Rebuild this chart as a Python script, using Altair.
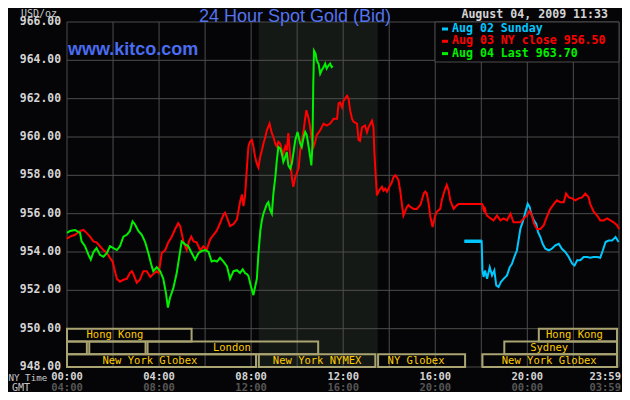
import altair as alt
import pandas as pd

# ---------------------------------------------------------
# DATA (minutes after midnight NY time, USD/oz)
# ---------------------------------------------------------
red_min = [0, 8, 21, 34, 43, 51, 60, 69, 77, 86, 95, 104, 112, 119, 123, 130, 138, 147, 156, 164,
           169, 173, 182, 190, 199, 208, 217, 225, 234, 239, 243, 247, 256, 264, 273, 282, 290, 295,
           304, 312, 317, 324, 330, 338, 347, 356, 364, 373, 382, 390, 399, 408, 412, 417, 425, 434,
           443, 451, 456, 460, 464, 469, 473, 477, 482, 486, 490, 495, 499, 504, 508, 512, 517, 521,
           528, 534, 538, 543, 547, 551, 556, 560, 564, 569, 573, 577, 582, 586, 590, 595, 599, 604,
           608, 612, 617, 621, 624, 630, 634, 638, 643, 647, 651, 660, 669, 677, 686, 695, 704, 708,
           712, 717, 721, 730, 734, 738, 743, 747, 756, 760, 764, 769, 777, 782, 786, 795, 799, 801,
           805, 808, 812, 817, 821, 825, 830, 834, 838, 843, 847, 851, 856, 860, 864, 869, 873, 877,
           882, 886, 890, 895, 904, 912, 921, 925, 930, 934, 938, 943, 947, 953, 960, 964, 973, 977,
           982, 986, 990, 995, 999, 1004, 1008, 1012, 1017, 1021, 1025, 1082, 1086, 1090, 1095, 1104,
           1112, 1121, 1130, 1138, 1147, 1156, 1164, 1173, 1182, 1190, 1199, 1206, 1212, 1217, 1225,
           1234, 1243, 1251, 1260, 1269, 1277, 1286, 1295, 1301, 1308, 1317, 1325, 1334, 1343, 1351,
           1360, 1364, 1373, 1382, 1390, 1399, 1408, 1417, 1425, 1434, 1439]
red_usd = [954.7, 954.8, 954.9, 955.1, 955.15, 955.0, 954.8, 954.55, 954.5, 954.3, 954.1, 953.95,
           953.7, 953.5, 953.15, 952.6, 952.45, 952.55, 952.6, 952.9, 953.0, 952.85, 952.4, 952.55,
           953.0, 953.0, 952.7, 952.85, 953.0, 952.9, 953.4, 953.95, 954.1, 954.5, 954.8, 955.2,
           955.5, 955.35, 954.5, 954.1, 954.5, 954.8, 954.55, 954.5, 954.1, 954.3, 954.1, 954.65,
           954.9, 955.1, 955.5, 955.95, 956.05, 955.8, 955.35, 955.45, 955.7, 956.6, 957.0, 956.4,
           956.9, 958.4, 959.5, 959.75, 959.85, 959.5, 959.0, 958.6, 958.4, 959.0, 959.3, 959.65,
           960.0, 960.35, 960.7, 960.2, 960.0, 959.65, 959.5, 959.75, 959.65, 959.3, 959.1, 959.5,
           959.3, 960.2, 959.0, 957.9, 957.4, 957.9, 958.1, 958.4, 959.3, 959.8, 960.35, 961.0,
           961.4, 960.95, 960.5, 959.9, 959.5, 959.75, 960.1, 960.35, 960.7, 960.6, 960.7, 960.95,
           960.95, 961.75, 961.8, 961.55, 961.9, 962.15, 962.0, 961.4, 960.95, 960.8, 960.7, 959.85,
           959.8, 960.5, 960.6, 960.25, 960.5, 960.85, 960.5, 959.3, 957.9, 956.95, 957.15, 957.3,
           957.4, 957.2, 957.3, 957.15, 957.3, 957.5, 957.65, 957.9, 958.0, 957.9, 957.75, 957.15,
           956.5, 955.9, 956.15, 956.35, 956.45, 956.35, 956.25, 956.25, 956.45, 956.7, 957.05,
           957.15, 957.05, 956.5, 955.85, 955.3, 955.9, 956.1, 956.25, 956.7, 957.05, 957.3, 957.5,
           957.2, 956.7, 956.45, 956.25, 956.35, 956.45, 956.5, 956.5, 956.5, 956.35, 956.1, 955.9,
           955.75, 955.65, 955.9, 955.65, 955.75, 955.65, 956.0, 955.55, 955.55, 955.55, 955.75,
           955.9, 956.15, 955.9, 955.5, 955.2, 955.2, 955.4, 955.85, 956.25, 956.5, 956.7, 956.6,
           956.6, 957.05, 956.85, 956.8, 956.7, 956.8, 956.85, 957.05, 956.85, 956.5, 956.1, 955.9,
           955.65, 955.65, 955.75, 955.65, 955.55, 955.4, 955.2]

green_min = [0, 8, 21, 25, 34, 38, 47, 56, 62, 69, 77, 86, 95, 104, 112, 121, 130, 138, 147, 156,
             164, 171, 177, 186, 195, 204, 212, 221, 225, 234, 243, 251, 258, 263, 269, 277, 286,
             293, 299, 308, 316, 325, 334, 343, 351, 360, 369, 377, 384, 391, 399, 408, 417, 425,
             434, 443, 451, 458, 464, 469, 473, 479, 486, 490, 495, 499, 504, 508, 512, 521, 525,
             530, 534, 538, 543, 547, 551, 556, 560, 564, 569, 573, 577, 582, 586, 590, 595, 601,
             608, 612, 617, 621, 625, 630, 634, 637, 640, 642, 644, 648, 651, 656, 660, 664, 669,
             673, 677, 682, 686, 690, 693]
green_usd = [955.0, 955.1, 955.15, 955.1, 955.0, 954.55, 954.3, 953.85, 953.6, 954.0, 954.2,
             953.85, 953.75, 953.95, 954.3, 954.2, 954.1, 954.3, 954.8, 954.9, 955.1, 955.6,
             955.45, 955.1, 954.9, 954.5, 953.95, 953.25, 953.0, 953.2, 953.0, 952.6, 951.85,
             951.1, 951.65, 952.1, 952.9, 953.8, 954.55, 954.4, 954.3, 953.95, 953.6, 953.95,
             954.05, 954.1, 954.0, 953.5, 953.55, 953.5, 953.7, 953.5, 953.25, 952.6, 953.0,
             953.05, 952.9, 953.1, 952.9, 952.85, 952.75, 952.25, 951.75, 952.15, 952.6, 953.9,
             955.1, 955.65, 956.0, 956.5, 956.6, 956.17, 956.0, 957.04, 957.9, 958.78, 959.48,
             959.4, 959.13, 958.7, 958.96, 959.22, 958.52, 958.35, 958.6, 959.13, 959.83, 960.26,
             959.65, 959.48, 960.0, 960.26, 960.1, 959.48, 958.96, 958.52, 959.65, 962.78, 964.5,
             964.35, 964.0, 963.8, 963.3, 963.48, 963.65, 963.83, 963.57, 963.74, 963.83, 963.65,
             963.7]

blue_min = [1036, 1081, 1083, 1086, 1090, 1095, 1102, 1108, 1114, 1119, 1125, 1131, 1138, 1147,
            1154, 1160, 1166, 1173, 1177, 1182, 1188, 1195, 1201, 1206, 1210, 1217, 1223, 1228,
            1234, 1240, 1247, 1256, 1264, 1273, 1282, 1290, 1299, 1308, 1317, 1323, 1330, 1338,
            1347, 1356, 1364, 1373, 1382, 1390, 1397, 1404, 1412, 1421, 1430, 1438]
blue_usd = [954.56, 954.56, 953.04, 952.7, 953.04, 952.6, 953.2, 952.78, 953.04, 952.26, 952.17,
            952.43, 952.6, 952.78, 953.2, 953.39, 953.74, 954.09, 954.6, 955.22, 955.57, 956.09,
            956.52, 956.35, 956.0, 955.65, 955.48, 955.04, 954.78, 954.43, 954.17, 954.09, 954.17,
            954.35, 954.43, 954.17, 954.0, 953.74, 953.39, 953.3, 953.57, 953.57, 953.74, 953.74,
            953.7, 953.74, 953.74, 953.7, 954.09, 954.52, 954.6, 954.6, 954.78, 954.52]

series_names = ["Aug 02 Sunday", "Aug 03 NY close 956.50", "Aug 04 Last 963.70"]
series_colors = ["#00c8ff", "#ff0000", "#00f000"]

y_ticks = [948, 950, 952, 954, 956, 958, 960, 962, 964, 966]
grid_min = [0, 120, 240, 360, 480, 600, 720, 840, 960, 1080, 1200, 1320, 1439]
tick_min = [0, 240, 480, 720, 960, 1200]
ny_labels = ["00:00", "04:00", "08:00", "12:00", "16:00", "20:00"]
gmt_labels = ["04:00", "08:00", "12:00", "16:00", "20:00", "00:00"]
last_ny, last_gmt = "23:59", "03:59"

nymex_open, nymex_close = 500, 810  # shaded pit session

sess_name = ["Hong Kong", "Hong Kong", "", "", "London", "Sydney",
             "New York Globex", "New York NYMEX", "NY Globex", "New York Globex"]
sess_row = [1, 1, 2, 2, 2, 2, 3, 3, 3, 3]
sess_start = [0, 1230, 0, 58, 210, 1140, 0, 500, 811, 1083]
sess_end = [330, 1439, 57, 210, 660, 1439, 498, 809, 1043, 1439]
sess_label_at = [125, 1323, 0, 0, 430, 1257, 216, 652, 910, 1257]

# ---------------------------------------------------------
# STYLE
# ---------------------------------------------------------
BG = "#050507"
GRID = "#4d4d4d"
MONO = "DejaVu Sans Mono"
W, H = 552, 345

xs = alt.Scale(domain=[0, 1439], nice=False)
ys = alt.Scale(domain=[948, 966], nice=False, zero=False)


def text(t, x, y, size, color, align="left", font=MONO, weight="normal", baseline="middle"):
    return alt.Chart(pd.DataFrame({"t": [t]})).mark_text(
        align=align, baseline=baseline, font=font, fontSize=size,
        fontWeight=weight, color=color
    ).encode(text="t:N", x=alt.value(x), y=alt.value(y))


def line(mins, usd, color, width=2):
    df = pd.DataFrame({"minute": mins, "usd": usd})
    return alt.Chart(df).mark_line(color=color, strokeWidth=width).encode(
        x=alt.X("minute:Q", scale=xs, axis=None),
        y=alt.Y("usd:Q", scale=ys, axis=None),
    )


# ---------------------------------------------------------
# LAYERS
# ---------------------------------------------------------
shade = alt.Chart(pd.DataFrame({"minute": [nymex_open], "end": [nymex_close],
                                "usd": [966], "low": [948]})).mark_rect(
    color="#151915"
).encode(
    x=alt.X("minute:Q", scale=xs, axis=None), x2="end:Q",
    y=alt.Y("usd:Q", scale=ys, axis=None), y2="low:Q",
)

hgrid = alt.Chart(pd.DataFrame({"usd": y_ticks})).mark_rule(color=GRID, strokeWidth=1).encode(
    y=alt.Y("usd:Q", scale=ys, axis=None)
)
vgrid = alt.Chart(pd.DataFrame({"minute": grid_min})).mark_rule(color=GRID, strokeWidth=1).encode(
    x=alt.X("minute:Q", scale=xs, axis=None)
)

sess = pd.DataFrame({"name": sess_name, "row": sess_row, "minute": sess_start,
                     "end": sess_end, "at": sess_label_at})
sess["usd"] = 950 - (sess["row"] - 1) * 2 / 3
sess["bot"] = sess["usd"] - 2 / 3
sess["mid"] = sess["usd"] - 1 / 3

boxes = alt.Chart(sess).mark_rect(
    fillOpacity=0, stroke="#aaa472", strokeWidth=2, x2Offset=-2
).encode(
    x=alt.X("minute:Q", scale=xs, axis=None), x2="end:Q",
    y=alt.Y("usd:Q", scale=ys, axis=None), y2="bot:Q",
)
box_text = alt.Chart(sess).mark_text(
    font=MONO, fontSize=10.5, color="#ffcc00", baseline="middle"
).encode(
    x=alt.X("at:Q", scale=xs, axis=None),
    y=alt.Y("mid:Q", scale=ys, axis=None),
    text="name:N",
)

blue = line(blue_min, blue_usd, series_colors[0])
red = line(red_min, red_usd, series_colors[1])
green = line(green_min, green_usd, series_colors[2])
blue_flat = line(blue_min[:2], blue_usd[:2], series_colors[0], 3.5)
red_flat = line(red_min[176:178], red_usd[176:178], series_colors[1], 3.5)

legend_box = alt.Chart(pd.DataFrame({"a": [0]})).mark_rect(
    fill=BG, stroke=GRID, strokeWidth=1
).encode(x=alt.value(368), x2=alt.value(W), y=alt.value(0), y2=alt.value(40))

legend_layers = []
for i, (name, col) in enumerate(zip(series_names, series_colors)):
    ly = 7 + i * 12.3
    legend_layers.append(
        alt.Chart(pd.DataFrame({"a": [0]})).mark_rule(color=col, strokeWidth=3).encode(
            x=alt.value(375), x2=alt.value(381), y=alt.value(ly)
        )
    )
    legend_layers.append(text(name, 385, ly, 11.6, col, weight="bold"))

ticks = pd.DataFrame({"minute": tick_min, "ny": ny_labels, "gmt": gmt_labels})
last = pd.DataFrame({"minute": [1439], "ny": [last_ny], "gmt": [last_gmt]})
x_labels = []
for df, extra in [(ticks, {}), (last, {"align": "right", "dx": 2})]:
    for field, y, col in [("ny", H + 9.5, "#d4d4d4"), ("gmt", H + 20.5, "#555555")]:
        x_labels.append(
            alt.Chart(df).mark_text(
                font=MONO, fontSize=10.5, fontWeight="bold", color=col,
                baseline="middle", **extra
            ).encode(x=alt.X("minute:Q", scale=xs, axis=None), y=alt.value(y),
                     text=f"{field}:N")
        )

ylab = pd.DataFrame({"usd": y_ticks, "label": [f"{v:.2f}" for v in y_ticks]})
y_labels = alt.Chart(ylab).mark_text(
    font=MONO, fontSize=11.4, fontWeight="bold", color="#d4d4d4",
    align="right", baseline="middle"
).encode(x=alt.value(-6), y=alt.Y("usd:Q", scale=ys, axis=None), text="label:N")

title = text("24 Hour Spot Gold (Bid)", 228, -0.5, 18, "#5474ee", align="center",
             font="Liberation Sans", baseline="alphabetic")
kitco = text("www.kitco.com", 1, 33, 18, "#4a6cf0", font="Liberation Sans",
             weight="bold", baseline="alphabetic")
unit = text("USD/oz", -46, -8.5, 10, "#c8c8c8")
stamp = text("August 04, 2009 11:33", 541, -7, 11.6, "#d4d4d4", align="right", weight="bold")
ny_time = text("NY Time", -58.5, H + 10.5, 9.2, "#c8c8c8")
gmt = text("GMT", -46, H + 20.5, 10, "#c8c8c8", align="center")

chart = alt.layer(
    shade, hgrid, vgrid, boxes, box_text,
    blue, blue_flat, red, red_flat, green,
    legend_box, *legend_layers,
    *x_labels, y_labels,
    title, kitco, unit, stamp, ny_time, gmt,
).properties(
    width=W, height=H, background=BG,
    padding={"left": 59, "top": 14, "right": 3, "bottom": 25},
    autosize=alt.AutoSizeParams(type="none"),
).configure_view(stroke="transparent")

chart.save("out.html", embed_options={"renderer": "svg", "actions": False})
